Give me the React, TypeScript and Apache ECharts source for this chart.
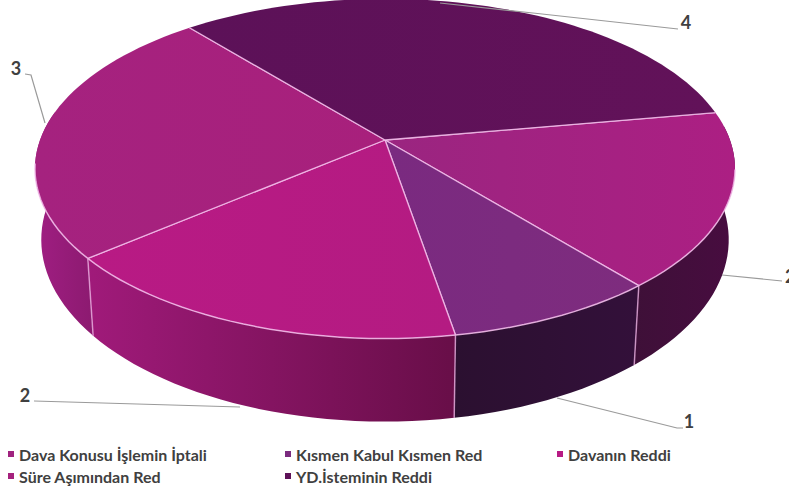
import React, { useEffect, useRef } from "react";
import * as echarts from "echarts";

const categories = [
  "Dava Konusu İşlemin İptali",
  "Kısmen Kabul Kısmen Red",
  "Davanın Reddi",
  "Süre Aşımından Red",
  "YD.İsteminin Reddi",
];
const values = [2, 1, 2, 3, 4];
const legendColors = ["#A0237F", "#7B2B7F", "#B71A84", "#A5217D", "#5E1158"];
const topStops = [
  ["#9A2580", "#AC1F83"],
  ["#7A2A80", "#7E2C7E"],
  ["#B81A84", "#B41B82"],
  ["#A5227F", "#A8207C"],
  ["#5C1158", "#621259"],
];
const sideStops = [
  ["#3E1038", "#480C40"],
  ["#2B1030", "#33103A"],
  ["#A01A7A", "#680E48"],
  ["#A01E82", "#8C1A70"],
  ["#3E0E3A", "#3E0E3A"],
];
const labelAnchors: number[][] = [
  [785, 276],
  [689, 421],
  [25, 395],
  [16, 68],
  [686, 22],
];
const leaderPaths: number[][][] = [
  [[722, 275], [782, 281]],
  [[557, 398], [677, 428], [683, 428]],
  [[34, 401], [240, 407]],
  [[25, 74], [31, 75], [45, 123]],
  [[678, 29], [533, 13], [440, 3]],
];

const START_ANGLE = 80.2;
const CX = 385;
const CY = 140;
const A = 345;
const B = 165;
const P = 0.169;
const DEPTH = 69;
const BOTTOM_SCALE = 0.982;
const EDGE = "rgba(243,190,235,0.85)";

const total = values.reduce((s, v) => s + v, 0);
const spanOf = (i: number) => {
  const before = values.slice(0, i).reduce((s, v) => s + v, 0);
  return [
    START_ANGLE + (before / total) * 360,
    START_ANGLE + ((before + values[i]) / total) * 360,
  ];
};
const top = (deg: number) => {
  const r = (deg * Math.PI) / 180;
  const u = Math.sin(r);
  const v = -Math.cos(r);
  const w = 1 - P * v;
  return [CX + (A * u) / w, CY + (B * v) / w];
};
const bottom = (deg: number) => {
  const r = (deg * Math.PI) / 180;
  const v = -Math.cos(r);
  const w = 1 - P * v;
  const [x, y] = top(deg);
  return [CX + (x - CX) * BOTTOM_SCALE, y + DEPTH / w];
};
const arc = (from: number, to: number, fn: (d: number) => number[]) => {
  const out: number[][] = [];
  const n = Math.max(2, Math.ceil(Math.abs(to - from) / 2));
  for (let k = 0; k <= n; k++) out.push(fn(from + ((to - from) * k) / n));
  return out;
};
const grad = (stops: string[]) =>
  new echarts.graphic.LinearGradient(0, 0, 1, 0, [
    { offset: 0, color: stops[0] },
    { offset: 1, color: stops[1] },
  ]);

const VIS_FROM = 85;
const VIS_TO = 280;

const renderSides = (params: any) => {
  const i = params.dataIndex;
  const [s, e] = spanOf(i);
  const from = Math.max(s, VIS_FROM);
  const to = Math.min(e, VIS_TO);
  if (to <= from) return { type: "group", children: [] };
  const upper = arc(from, to, top);
  const lower = arc(from, to, bottom);
  const children: any[] = [
    {
      type: "polygon",
      shape: { points: [...upper, ...lower.reverse()] },
      style: { fill: grad(sideStops[i]) },
    },
  ];
  if (e <= VIS_TO) {
    children.push({
      type: "line",
      z2: 5,
      shape: {
        x1: top(e)[0],
        y1: top(e)[1],
        x2: bottom(e)[0],
        y2: bottom(e)[1],
      },
      style: { stroke: "rgba(235,175,225,0.75)", lineWidth: 1.5 },
    });
  }
  return { type: "group", children };
};

const renderTop = (i: number) => () => {
  const [s, e] = spanOf(i);
  const edge = arc(s, e, top);
  const children: any[] = [
    {
      type: "polygon",
      shape: { points: [[CX, CY], ...edge] },
      style: { fill: grad(topStops[i]) },
    },
    {
      type: "polyline",
      shape: { points: [[CX, CY], top(s)] },
      style: { stroke: EDGE, lineWidth: 1.3, fill: null },
    },
    {
      type: "polyline",
      shape: { points: [[CX, CY], top(e)] },
      style: { stroke: EDGE, lineWidth: 1.3, fill: null },
    },
  ];
  const from = Math.max(s, 100);
  const to = Math.min(e, 262);
  if (to > from) {
    children.push({
      type: "polyline",
      shape: { points: arc(from, to, top) },
      style: { stroke: EDGE, lineWidth: 1.5, fill: null },
    });
  }
  children.push({
    type: "polyline",
    shape: { points: leaderPaths[i] },
    style: { stroke: "#9a9a9a", lineWidth: 1.2, fill: null },
  });
  children.push({
    type: "text",
    x: labelAnchors[i][0],
    y: labelAnchors[i][1],
    style: {
      text: String(values[i]),
      fill: "#404040",
      fontFamily: "Lato",
      fontWeight: "bold",
      fontSize: 18,
      align: i === 0 ? "left" : "center",
      verticalAlign: "middle",
    },
  });
  return { type: "group", children };
};

const legendText = {
  color: "#404040",
  fontFamily: "Lato",
  fontWeight: "bold" as const,
  fontSize: 16,
};
const legendColumn = (left: number, names: string[]) => ({
  left,
  top: 446,
  orient: "vertical" as const,
  icon: "rect",
  itemWidth: 6,
  itemHeight: 6,
  itemGap: 6,
  padding: 0,
  selectedMode: false,
  textStyle: legendText,
  data: names,
});

export default function App() {
  const ref = useRef<HTMLDivElement>(null);
  useEffect(() => {
    const chart = echarts.init(ref.current!, null, { renderer: "svg" });
    chart.setOption({
      animation: false,
      backgroundColor: "#ffffff",
      legend: [
        legendColumn(8, [categories[0], categories[3]]),
        legendColumn(285, [categories[1], categories[4]]),
        legendColumn(557, [categories[2]]),
      ],
      series: [
        {
          type: "custom",
          name: "sides",
          coordinateSystem: "none",
          silent: true,
          renderItem: renderSides,
          data: values.map((v) => [v]),
        },
        ...categories.map((name, i) => ({
          type: "custom",
          name,
          coordinateSystem: "none",
          silent: true,
          itemStyle: { color: legendColors[i] },
          renderItem: renderTop(i),
          data: [[values[i]]],
        })),
      ],
    });
    return () => chart.dispose();
  }, []);
  return (
    <div
      ref={ref}
      style={{ position: "fixed", left: 0, top: 0, width: 789, height: 493 }}
    />
  );
}
